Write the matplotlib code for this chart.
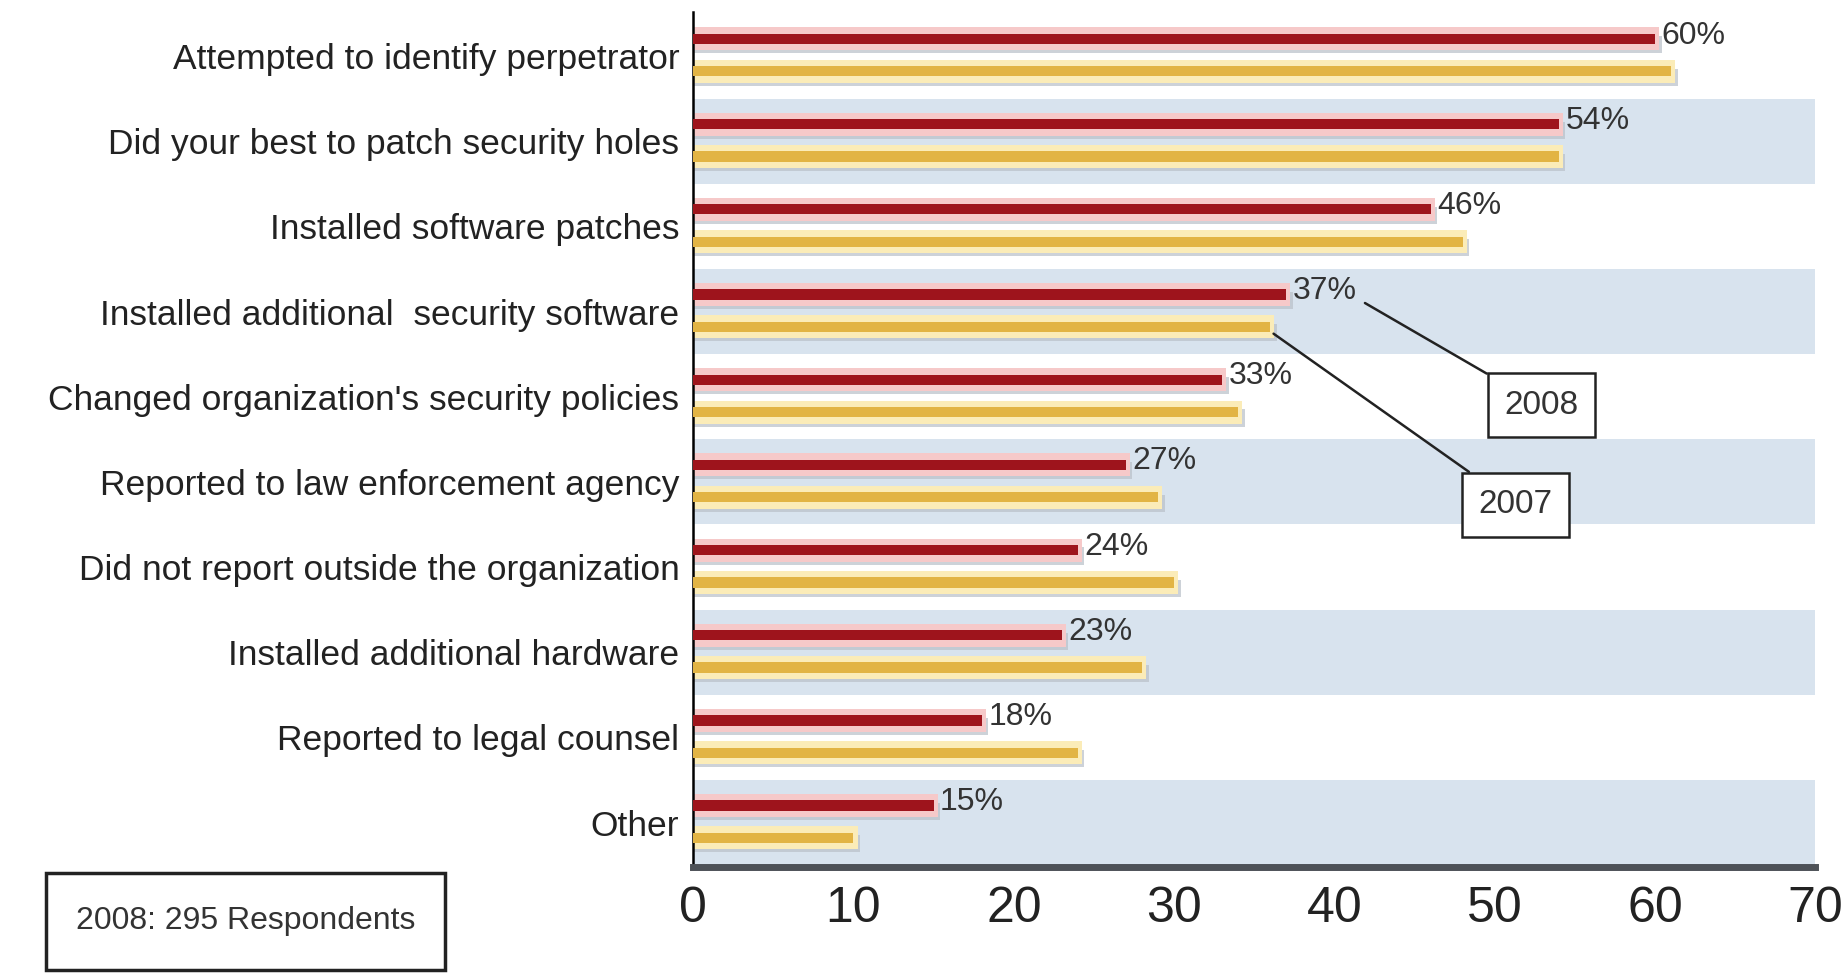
import matplotlib
matplotlib.use("Agg")
import matplotlib.pyplot as plt
import numpy as np
from matplotlib.patches import Rectangle

plt.rcParams["font.family"] = ["Liberation Sans", "DejaVu Sans"]

categories = [
    "Attempted to identify perpetrator",
    "Did your best to patch security holes",
    "Installed software patches",
    "Installed additional  security software",
    "Changed organization's security policies",
    "Reported to law enforcement agency",
    "Did not report outside the organization",
    "Installed additional hardware",
    "Reported to legal counsel",
    "Other",
]
values_2008 = [60, 54, 46, 37, 33, 27, 24, 23, 18, 15]
values_2007 = [61, 54, 48, 36, 34, 29, 30, 28, 24, 10]
x_ticks = [0, 10, 20, 30, 40, 50, 60, 70]

RED = "#9e141c"
RED_HALO = "#f6c9c9"
YEL = "#e2b444"
YEL_HALO = "#fbecb8"
SHADOW = "#b9c0c8"
BAND = "#d8e3ee"

fig = plt.figure(figsize=(18.45, 9.73), dpi=100)
ax = fig.add_axes([0.3757, 0.109, 0.6083, 0.879])

y = np.arange(len(categories))

# alternating background bands
for i in y:
    if i % 2 == 1:
        ax.barh(i, 70, height=1.0, left=0, color=BAND, zorder=0)


def glow_bars(pos, vals, core, halo):
    # drop shadow, soft halo, core line
    ax.barh(pos + 0.07, np.array(vals) + 0.4, height=0.2, color=SHADOW, alpha=0.7, zorder=1)
    ax.barh(pos, np.array(vals) + 0.25, height=0.27, color=halo, zorder=2)
    ax.barh(pos, vals, height=0.12, color=core, zorder=3)


glow_bars(y - 0.2, values_2008, RED, RED_HALO)
glow_bars(y + 0.18, values_2007, YEL, YEL_HALO)

for i, v in enumerate(values_2008):
    ax.text(v + 0.4, i - 0.24, f"{v}%", fontsize=23, color="#333333",
            va="center", ha="left", zorder=5)

ax.set_xlim(0, 70)
ax.set_ylim(9.52, -0.52)
ax.set_yticks(y)
ax.set_yticklabels(categories, fontsize=25.5, color="#222222")
ax.set_xticks(x_ticks)
ax.set_xticklabels([str(t) for t in x_ticks], fontsize=36, color="#222222")
ax.tick_params(axis="y", length=0, pad=10)
ax.tick_params(axis="x", length=0, pad=14)

for side in ("top", "right"):
    ax.spines[side].set_visible(False)
ax.spines["left"].set_color("black")
ax.spines["left"].set_linewidth(1.8)
ax.spines["bottom"].set_color("#4d5157")
ax.spines["bottom"].set_linewidth(5)

# year callouts
box_style = dict(boxstyle="square,pad=0.5", fc="white", ec="#222222", lw=1.8)
ax.annotate("2008", xy=(41.9, 2.9), xytext=(52.9, 4.1), fontsize=24, color="#333333",
            ha="center", va="center", bbox=box_style, zorder=6,
            arrowprops=dict(arrowstyle="-", color="#222222", lw=1.8, shrinkA=0, shrinkB=0))
ax.annotate("2007", xy=(36.2, 3.26), xytext=(51.3, 5.27), fontsize=24, color="#333333",
            ha="center", va="center", bbox=box_style, zorder=6,
            arrowprops=dict(arrowstyle="-", color="#222222", lw=1.8, shrinkA=0, shrinkB=0))

# respondents note
fig.patches.append(Rectangle((0.025, 0.003), 0.216, 0.1, transform=fig.transFigure,
                             fc="white", ec="#222222", lw=2.5))
fig.text(0.133, 0.053, "2008: 295 Respondents", fontsize=23, color="#333333",
         ha="center", va="center")

fig.savefig("out.png", dpi=100)
